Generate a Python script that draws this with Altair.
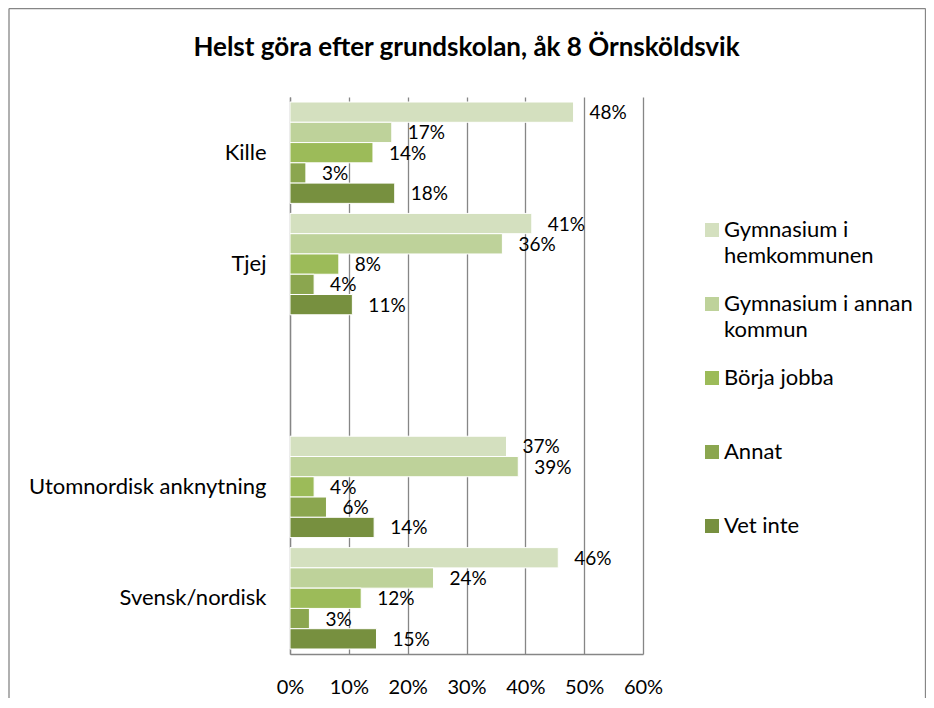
import altair as alt
import pandas as pd

title_text = "Helst göra efter grundskolan, åk 8 Örnsköldsvik"
categories = ["Kille", "Tjej", " ", "Utomnordisk anknytning", "Svensk/nordisk"]
series = ["Gymnasium i hemkommunen", "Gymnasium i annan kommun", "Börja jobba", "Annat", "Vet inte"]
legend_lines = ["Gymnasium i|hemkommunen|", "Gymnasium i annan|kommun|", "Börja jobba||", "Annat||", "Vet inte||"]
colors = ["#D4E0BF", "#BED29A", "#9CBB59", "#8BA64F", "#77903F"]

kille = [48.2, 17.3, 14.1, 2.7, 17.8]
tjej = [41.1, 36.1, 8.3, 4.1, 10.6]
utomnordisk = [36.8, 38.8, 4.1, 6.2, 14.3]
svensk = [45.6, 24.4, 12.1, 3.3, 14.7]
x_ticks = [0, 10, 20, 30, 40, 50, 60]

rows = []
for cat, vals in zip(["Kille", "Tjej", "Utomnordisk anknytning", "Svensk/nordisk"],
                     [kille, tjej, utomnordisk, svensk]):
    for s, v in zip(series, vals):
        rows.append({"cat": cat, "series": s, "value": v})
df = pd.DataFrame(rows)

FONT = "Lato"
GRID = "#868686"

label_expr = "''"
for s, l in zip(reversed(series), reversed(legend_lines)):
    label_expr = f"datum.label == '{s}' ? '{l}' : ({label_expr})"
label_expr = f"split({label_expr}, '|')"

y_enc = alt.Y(
    "cat:N",
    scale=alt.Scale(domain=categories, paddingInner=0.09, paddingOuter=0.045),
    axis=alt.Axis(title=None, ticks=False, labelPadding=24, labelFontSize=22, labelFont=FONT,
                  labelColor="black", domainColor=GRID, domainWidth=1.3, labelLimit=400),
)
yoff_enc = alt.YOffset("series:N", scale=alt.Scale(domain=series, paddingInner=0, paddingOuter=0))
x_enc = alt.X(
    "value:Q",
    scale=alt.Scale(domain=[0, 60], nice=False),
    axis=alt.Axis(title=None, values=x_ticks, labelExpr="datum.value + '%'", grid=True,
                  gridColor=GRID, gridWidth=1.3, ticks=False, domainColor=GRID, domainWidth=1.3,
                  labelPadding=33, labelBaseline="middle", labelFontSize=20, labelFont=FONT,
                  labelColor="black", labelOverlap=False, labelFlush=False),
)

bars = alt.Chart(df).mark_bar(stroke="white", strokeWidth=1).encode(
    x=x_enc,
    y=y_enc,
    yOffset=yoff_enc,
    color=alt.Color(
        "series:N",
        scale=alt.Scale(domain=series, range=colors),
        legend=alt.Legend(
            orient="none", legendX=411, legendY=122, title=None,
            symbolType="square", symbolSize=196, symbolStrokeWidth=0,
            labelFontSize=22, labelFont=FONT, labelColor="black", labelOffset=1,
            labelLimit=400, labelExpr=label_expr, rowPadding=0, labelBaseline="middle",
        ),
    ),
)

labels = alt.Chart(df).transform_calculate(
    txt="round(datum.value) + '%'"
).mark_text(align="left", baseline="middle", dx=16, dy=1, fontSize=19, font=FONT, color="black").encode(
    x="value:Q",
    y=alt.Y("cat:N"),
    yOffset=alt.YOffset("series:N"),
    text="txt:N",
)

one = pd.DataFrame({"k": [0]})
frame_style = dict(color=GRID, strokeWidth=1.3)
left_edge = alt.Chart(one).mark_rule(**frame_style).encode(
    x=alt.value(-281), y=alt.value(-88.5), y2=alt.value(601))
right_edge = alt.Chart(one).mark_rule(**frame_style).encode(
    x=alt.value(635.5), y=alt.value(-88.5), y2=alt.value(601))
top_edge = alt.Chart(one).mark_rule(**frame_style).encode(
    x=alt.value(-281), x2=alt.value(635.5), y=alt.value(-88.5))

chart = alt.layer(bars, labels, left_edge, right_edge, top_edge).properties(
    width=353,
    height=557,
    autosize="none",
    padding={"left": 282, "top": 89, "right": 283, "bottom": 44},
    title=alt.TitleParams(title_text, font=FONT, fontSize=26, fontWeight="bold",
                          offset=-53, color="black", anchor="middle"),
).configure(
    style={"guide-label": {"lineHeight": 26}},
    view={"stroke": "transparent"},
)

chart.save("out.html", embed_options={"renderer": "svg", "actions": False})
